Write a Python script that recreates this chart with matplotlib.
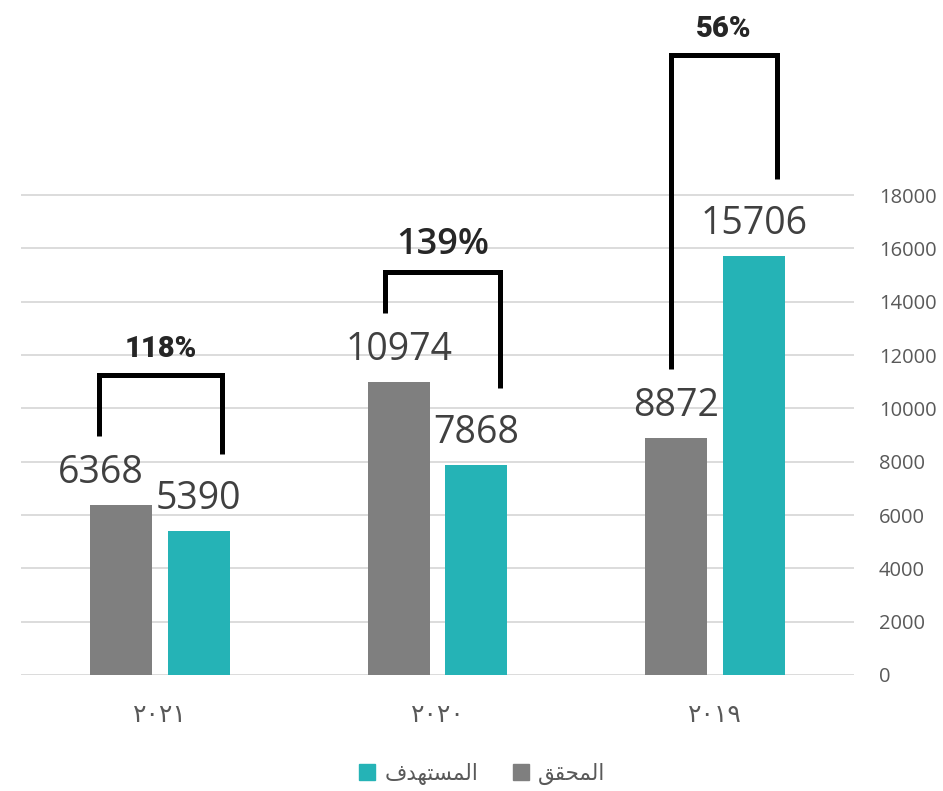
import matplotlib
matplotlib.use("Agg")
import matplotlib.pyplot as plt
from matplotlib.lines import Line2D
import numpy as np

# ---- data ----
years = ["٢٠٢١", "٢٠٢٠", "٢٠١٩"]
achieved = [6368, 10974, 8872]      # المحقق (gray)
target = [5390, 7868, 15706]        # المستهدف (teal)
yticks = list(range(0, 18001, 2000))

# legend labels (Arabic, pre-shaped presentation forms in visual order)
label_achieved = "\uFED6\uFED8\uFEA4\uFEE4\uFEDF\uFE8D"            # المحقق
label_target = "\uFED1\uFEAA\uFEEC\uFE98\uFEB4\uFEE4\uFEDF\uFE8D"   # المستهدف

# bracket layout levels (annotation heights)
bracket_top_levels = [11250, 15100, 23250]

GRAY = "#7F7F7F"
TEAL = "#25B3B6"

fig = plt.figure(figsize=(9.43, 7.91), dpi=100)
ax = fig.add_axes([0.02253, 0.14665, 0.8828, 0.8533])

x = np.arange(len(years))
off = 0.14
w = 0.2234
ax.bar(x - off, achieved, width=w, color=GRAY, zorder=3)
ax.bar(x + off, target, width=w, color=TEAL, zorder=3)

ax.set_xlim(-0.5, 2.5)
ax.set_ylim(0, 25312)
ax.set_yticks(yticks)
ax.yaxis.tick_right()
ax.tick_params(axis="y", length=0, pad=18, labelsize=14.5, labelcolor="#595959")
for lab in ax.get_yticklabels():
    lab.set_fontfamily(["Open Sans", "DejaVu Sans"])
ax.set_xticks(x)
ax.set_xticklabels(years, fontsize=18, color="#595959", family=["DejaVu Sans"])
ax.tick_params(axis="x", length=0, pad=20)
ax.grid(axis="y", color="#D9D9D9", linewidth=1.3, zorder=0)
for s in ax.spines.values():
    s.set_visible(False)

# value labels
label_dx = [-20, 0, 0]
for i in range(len(years)):
    ax.annotate(str(achieved[i]), (x[i] - off, achieved[i]), xytext=(label_dx[i], 22),
                textcoords="offset pixels", ha="center", va="baseline",
                fontsize=27, color="#404040", family=["Open Sans", "DejaVu Sans"])
    ax.annotate(str(target[i]), (x[i] + off, target[i]), xytext=(0, 22),
                textcoords="offset pixels", ha="center", va="baseline",
                fontsize=27, color="#404040", family=["Open Sans", "DejaVu Sans"])

# brackets with percentages (middle one styled differently, as in the source)
pct_styles = [
    dict(fontsize=21, fontweight="black", family=["Roboto", "DejaVu Sans"]),
    dict(fontsize=26, fontweight="semibold", family=["Open Sans", "DejaVu Sans"]),
    dict(fontsize=21, fontweight="black", family=["Roboto", "DejaVu Sans"]),
]
for i in range(len(years)):
    top = bracket_top_levels[i]
    xl = x[i] - 0.22 + 0.03 * i
    xr = x[i] + 0.225
    lb = achieved[i] + 2600
    rb = target[i] + 2900
    ax.plot([xl, xl, xr, xr], [lb, top, top, rb], color="black", linewidth=3.6,
            solid_joinstyle="miter", solid_capstyle="butt", zorder=4, clip_on=False)
    pct = round(achieved[i] / target[i] * 100)
    ax.annotate(f"{pct}%", ((xl + xr) / 2, top), xytext=(0, 18), textcoords="offset pixels",
                ha="center", va="baseline", color="#262626", **pct_styles[i])

handles = [Line2D([], [], marker="s", linestyle="none", markersize=12, color=TEAL),
           Line2D([], [], marker="s", linestyle="none", markersize=12, color=GRAY)]
leg = fig.legend(handles, [label_target, label_achieved], loc="center",
                 bbox_to_anchor=(0.51, 0.022), ncol=2, frameon=False,
                 prop={"family": ["DejaVu Sans"], "size": 15.5},
                 handletextpad=0.3, columnspacing=1.5, handlelength=1.0)
for t in leg.get_texts():
    t.set_color("#595959")

fig.savefig("out.png", dpi=100)
